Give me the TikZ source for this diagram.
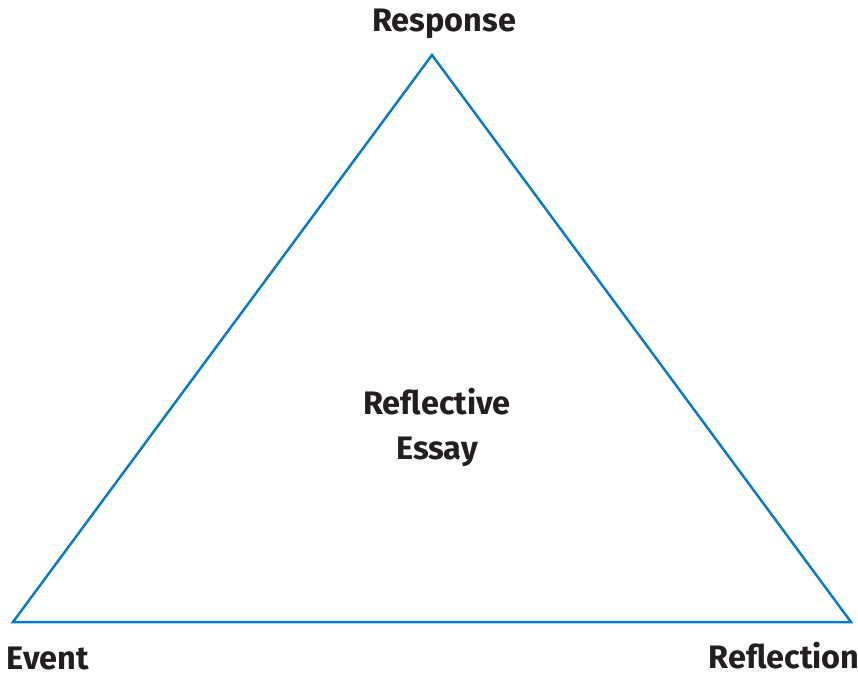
\documentclass[tikz,border=0pt]{standalone}
\usepackage{fontspec}
\setmainfont{Fira Sans}
\definecolor{triblue}{HTML}{0A7CC3}
\definecolor{txt}{HTML}{231F20}
\begin{document}
\begin{tikzpicture}[x=1pt,y=-1pt,
  lbl/.style={font=\bfseries\fontsize{32.5}{38}\selectfont, text=txt, inner sep=0pt, align=center},
  edge/.style={draw=triblue, line width=2.5pt, line join=miter}]
\useasboundingbox (0,0) rectangle (858,677);
\coordinate (top) at (432,55);
\coordinate (bl) at (13,622);
\coordinate (br) at (851,622);
\draw[edge] (top) -- (bl) -- (br) -- cycle;
\node[lbl] (response) at (444,24) {Response};
\node[lbl] (event) at (48,659) {Event};
\node[lbl] (reflection) at (784,656) {Reflection};
\node[lbl, font=\bfseries\fontsize{32.5}{45}\selectfont] (essay) at (437,427) {Reflective\\Essay};
\end{tikzpicture}
\end{document}
